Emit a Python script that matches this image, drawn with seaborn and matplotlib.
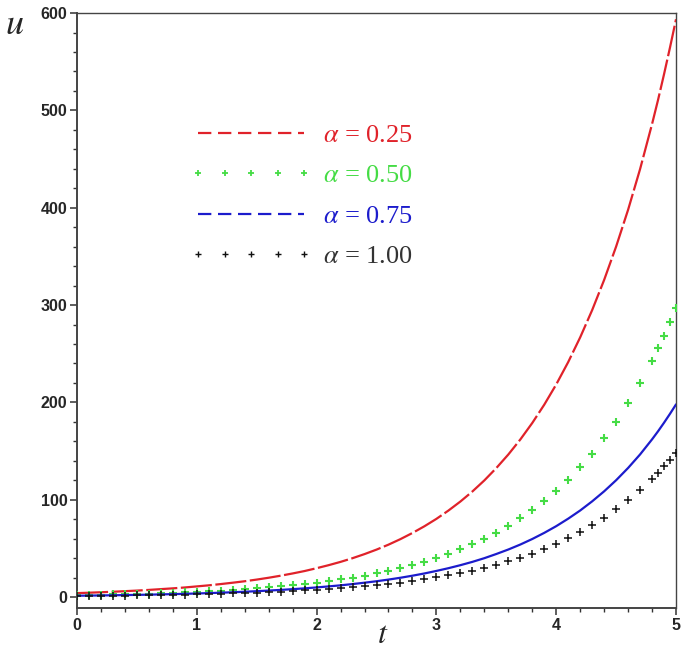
"""
Exponential solution u(t) for several fractional orders alpha.

Recreated as a Maple-style plot: boxed axes, bold tick labels,
legend without frame in the upper left of the data area.
"""

import matplotlib.pyplot as plt
import pandas as pd
import seaborn as sns
from matplotlib.lines import Line2D
from matplotlib.ticker import MultipleLocator

# ── Data ─────────────────────────────────────────────────────────────────────

t = [0.0, 0.1, 0.2, 0.3, 0.4, 0.5, 0.6, 0.7, 0.8, 0.9,
     1.0, 1.1, 1.2, 1.3, 1.4, 1.5, 1.6, 1.7, 1.8, 1.9,
     2.0, 2.1, 2.2, 2.3, 2.4, 2.5, 2.6, 2.7, 2.8, 2.9,
     3.0, 3.1, 3.2, 3.3, 3.4, 3.5, 3.6, 3.7, 3.8, 3.9,
     4.0, 4.1, 4.2, 4.3, 4.4, 4.5, 4.6, 4.7, 4.8,
     4.85, 4.9, 4.95, 5.0]

u_025 = [4.0, 4.4, 4.9, 5.4, 6.0, 6.6, 7.3, 8.1, 8.9, 9.8,
         10.9, 12.0, 13.3, 14.7, 16.2, 17.9, 19.8, 21.9, 24.2, 26.7,
         29.6, 32.7, 36.1, 39.9, 44.1, 48.7, 53.8, 59.5, 65.8, 72.7,
         80.3, 88.8, 98.1, 108.4, 119.8, 132.5, 146.4, 161.8, 178.8, 197.6,
         218.4, 241.4, 266.8, 294.8, 325.8, 360.1, 397.9, 439.7, 486.0,
         510.8, 537.2, 564.8, 593.6]

u_050 = [2.0, 2.2, 2.4, 2.7, 3.0, 3.3, 3.6, 4.0, 4.5, 4.9,
         5.4, 6.0, 6.6, 7.3, 8.1, 9.0, 9.9, 10.9, 12.1, 13.4,
         14.8, 16.3, 18.1, 19.9, 22.0, 24.4, 26.9, 29.8, 32.9, 36.3,
         40.2, 44.4, 49.1, 54.2, 59.9, 66.2, 73.2, 80.9, 89.4, 98.8,
         109.2, 120.7, 133.4, 147.4, 162.9, 180.0, 199.0, 219.8, 243.0,
         255.4, 268.6, 282.4, 296.8]

u_075 = [1.33, 1.47, 1.63, 1.80, 1.99, 2.20, 2.43, 2.69, 2.97, 3.28,
         3.62, 4.01, 4.43, 4.89, 5.41, 5.98, 6.60, 7.30, 8.07, 8.91,
         9.85, 10.9, 12.0, 13.3, 14.7, 16.2, 17.9, 19.8, 21.9, 24.2,
         26.8, 29.6, 32.7, 36.1, 39.9, 44.2, 48.8, 53.9, 59.6, 65.9,
         72.8, 80.5, 88.9, 98.3, 108.6, 120.0, 132.6, 146.5, 162.0,
         170.3, 179.1, 188.3, 197.9]

u_100 = [1.0, 1.1, 1.2, 1.35, 1.5, 1.65, 1.8, 2.0, 2.2, 2.5,
         2.7, 3.0, 3.3, 3.7, 4.1, 4.5, 5.0, 5.5, 6.1, 6.7,
         7.4, 8.2, 9.0, 10.0, 11.0, 12.2, 13.5, 14.9, 16.4, 18.2,
         20.1, 22.2, 24.5, 27.1, 30.0, 33.1, 36.6, 40.4, 44.7, 49.4,
         54.6, 60.3, 66.7, 73.7, 81.5, 90.0, 99.5, 109.9, 121.5,
         127.7, 134.3, 141.2, 148.4]

labels = ["0.25", "0.50", "0.75", "1.00"]

RED = "#e0222a"
GREEN = "#45dc45"
BLUE = "#1c1ccc"
BLACK = "#111111"


def main() -> None:
    df = pd.DataFrame({"t": t, "a025": u_025, "a050": u_050,
                       "a075": u_075, "a100": u_100})

    sns.set_theme(style="ticks")
    plt.rcParams["font.family"] = ["Liberation Sans", "DejaVu Sans"]
    plt.rcParams["mathtext.fontset"] = "stix"

    fig = plt.figure(figsize=(6.85, 6.53), dpi=100)
    ax = fig.add_axes([0.1124, 0.0689, 0.8745, 0.9111])

    # ── Curves ────────────────────────────────────────────────────────────────
    sns.lineplot(data=df, x="t", y="a025", ax=ax, color=RED, lw=1.6,
                 zorder=3).lines[-1].set_dashes((14, 1.6))
    sns.scatterplot(data=df, x="t", y="a050", ax=ax, color=GREEN,
                    marker="+", s=36, linewidth=1.5, zorder=3)
    sns.lineplot(data=df, x="t", y="a075", ax=ax, color=BLUE, lw=1.6,
                 zorder=4)
    sns.scatterplot(data=df, x="t", y="a100", ax=ax, color=BLACK,
                    marker="+", s=28, linewidth=1.1, zorder=4)

    # ── Axes ──────────────────────────────────────────────────────────────────
    ax.set_xlim(0, 5)
    ax.set_ylim(-11.3, 600)
    ax.set_xticks(range(0, 6))
    ax.set_yticks(range(0, 601, 100))
    ax.xaxis.set_minor_locator(MultipleLocator(0.2))
    ax.yaxis.set_minor_locator(MultipleLocator(20))
    ax.tick_params(which="major", direction="out", length=5, width=1.1,
                   labelsize=11.5, pad=2, color="#333333")
    ax.tick_params(which="minor", direction="out", length=3, width=1.0,
                   color="#333333")
    for lab in ax.get_xticklabels() + ax.get_yticklabels():
        lab.set_fontweight("bold")
    for side, sp in ax.spines.items():
        sp.set_visible(True)
        sp.set_color("#444444")
        sp.set_linewidth(1.4 if side in ("left", "bottom") else 1.0)

    ax.set_xlabel("")
    ax.set_ylabel("")
    fig.text(0.559, 0.004, "$t$", fontsize=23, ha="center", va="bottom")
    fig.text(0.008, 0.99, "$u$", fontsize=26, ha="left", va="top")

    # ── Legend ────────────────────────────────────────────────────────────────
    handles = [
        Line2D([], [], color=RED, lw=1.6, dashes=(6, 3)),
        Line2D([], [], color=GREEN, ls="none", marker="+", ms=5, mew=1.3),
        Line2D([], [], color=BLUE, lw=1.6, dashes=(6, 3)),
        Line2D([], [], color=BLACK, ls="none", marker="+", ms=5, mew=1.0),
    ]
    texts = [r"$\alpha$ = " + lab for lab in labels]
    leg = ax.legend(handles, texts, loc="upper left",
                    bbox_to_anchor=(0.172, 0.832), frameon=False,
                    numpoints=5, handlelength=4.6, handletextpad=0.4,
                    labelspacing=0.64, borderaxespad=0,
                    prop={"family": "Liberation Serif", "size": 19})
    for txt, col in zip(leg.get_texts(), [RED, GREEN, BLUE, "#333333"]):
        txt.set_color(col)

    fig.savefig("out.png", dpi=100)
    plt.close(fig)


if __name__ == "__main__":
    main()
